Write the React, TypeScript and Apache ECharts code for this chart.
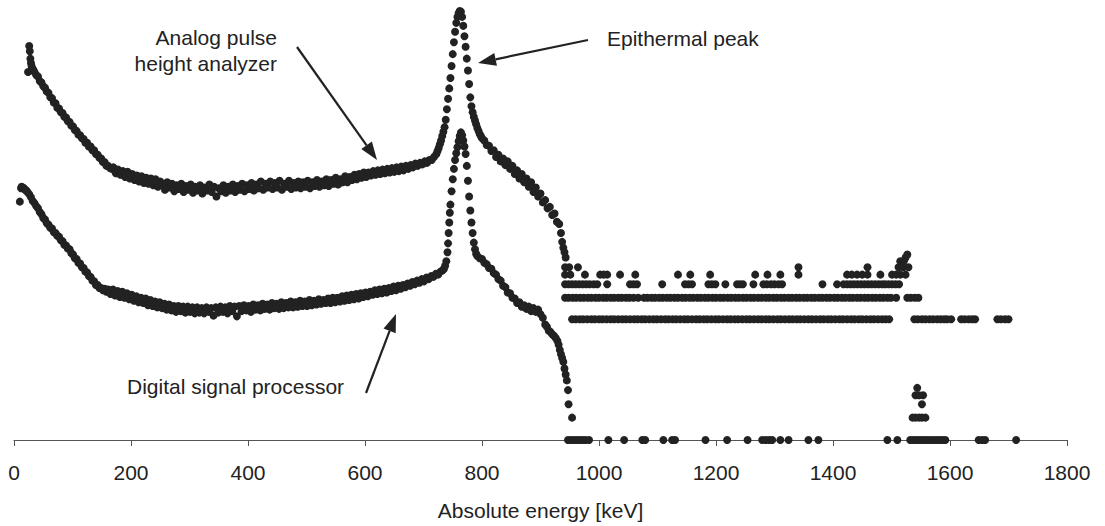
import React, { useEffect, useRef } from "react";
import * as echarts from "echarts";

// Values: x = absolute energy [keV], y = log10 of plotted counts (decades above the axis)
const analogCurve: [number, number][] = [
  [24, 4.94], [26, 5.29], [27, 5.22], [28, 5.12], [29, 5.06], [30, 5.02], [31, 4.99], [33, 4.97], [35, 4.94],
  [38, 4.9], [41, 4.88], [44, 4.82], [47, 4.8], [50, 4.75], [53, 4.73], [56, 4.68], [59, 4.66], [62, 4.6], [65, 4.59],
  [68, 4.53], [71, 4.52], [74, 4.46], [77, 4.45], [80, 4.4], [83, 4.39], [86, 4.34], [89, 4.33], [92, 4.28], [95, 4.27],
  [98, 4.22], [101, 4.21], [104, 4.16], [107, 4.15], [110, 4.1], [113, 4.09], [116, 4.05], [119, 4.04], [122, 3.99],
  [125, 3.99], [128, 3.94], [131, 3.94], [134, 3.89], [137, 3.89], [140, 3.84], [143, 3.83], [146, 3.79], [149, 3.78],
  [152, 3.73], [155, 3.73], [158, 3.68], [161, 3.68], [164, 3.65], [167, 3.64],
  [170, 3.66], [174, 3.58], [178, 3.63], [182, 3.56], [186, 3.61], [190, 3.53], [194, 3.6], [198, 3.51], [202, 3.57],
  [206, 3.49], [210, 3.55], [214, 3.47], [218, 3.54], [222, 3.45], [226, 3.52], [230, 3.44], [234, 3.51], [238, 3.42],
  [242, 3.5], [246, 3.4], [250, 3.47], [254, 3.43], [258, 3.36], [262, 3.46], [266, 3.39], [270, 3.44], [274, 3.34],
  [278, 3.42], [282, 3.37], [286, 3.44], [290, 3.33], [294, 3.41], [298, 3.36], [302, 3.43], [306, 3.32], [310, 3.4],
  [314, 3.35], [318, 3.42], [322, 3.31], [326, 3.39], [330, 3.35], [334, 3.43], [338, 3.33], [342, 3.4], [346, 3.27],
  [350, 3.38], [354, 3.34], [358, 3.42], [362, 3.32], [366, 3.4], [370, 3.35], [374, 3.43], [378, 3.33], [382, 3.41],
  [386, 3.36], [390, 3.44], [394, 3.34], [398, 3.42], [402, 3.37], [406, 3.45], [410, 3.35], [414, 3.43], [418, 3.38],
  [422, 3.47], [426, 3.36], [430, 3.44], [434, 3.39], [438, 3.47], [442, 3.37], [446, 3.45], [450, 3.39], [454, 3.48],
  [458, 3.36], [462, 3.44], [466, 3.4], [470, 3.48], [474, 3.37], [478, 3.45], [482, 3.39], [486, 3.47], [490, 3.38],
  [494, 3.46], [498, 3.4], [502, 3.48], [506, 3.38], [510, 3.46], [514, 3.41], [518, 3.49], [522, 3.4], [526, 3.47],
  [530, 3.42], [534, 3.5], [538, 3.41], [542, 3.49], [546, 3.44], [550, 3.52], [554, 3.43], [558, 3.5], [562, 3.46],
  [566, 3.54], [570, 3.46], [574, 3.53], [578, 3.49], [582, 3.56], [586, 3.5], [590, 3.57], [594, 3.52], [598, 3.59],
  [602, 3.53], [606, 3.59], [610, 3.55], [614, 3.61], [618, 3.56], [622, 3.62], [626, 3.57], [630, 3.63], [634, 3.58],
  [638, 3.64], [642, 3.59], [646, 3.65], [650, 3.6], [654, 3.66], [658, 3.61], [662, 3.67], [666, 3.62], [670, 3.68],
  [674, 3.64], [678, 3.69], [682, 3.66], [686, 3.71], [690, 3.68], [694, 3.72], [698, 3.7], [702, 3.74], [706, 3.72],
  [710, 3.76], [714, 3.76], [718, 3.8], [722, 3.84],
  [724, 3.88], [726, 3.92], [728, 3.97], [730, 4.02], [732, 4.08], [734, 4.14], [736, 4.2], [738, 4.3], [740, 4.44],
  [742, 4.58], [744, 4.72], [746, 4.86], [748, 5.02], [750, 5.18], [752, 5.34], [754, 5.48], [756, 5.6], [758, 5.68],
  [760, 5.73], [762, 5.76], [764, 5.75], [766, 5.68], [768, 5.56], [770, 5.42], [772, 5.28], [774, 5.12], [776, 4.96],
  [778, 4.78], [780, 4.6], [782, 4.48], [784, 4.4], [786, 4.34], [788, 4.29], [790, 4.24], [792, 4.19], [794, 4.15],
  [796, 4.11], [798, 4.08], [800, 4.05],
  [804, 4.02], [808, 3.96], [812, 3.95], [816, 3.88], [820, 3.89], [824, 3.8], [828, 3.83], [832, 3.74], [836, 3.78],
  [840, 3.69], [844, 3.74], [848, 3.64], [852, 3.68], [856, 3.57], [860, 3.62], [864, 3.51], [868, 3.57], [872, 3.46],
  [876, 3.51], [880, 3.4], [884, 3.46], [888, 3.33], [892, 3.39], [896, 3.27], [900, 3.31], [904, 3.19], [908, 3.22],
  [912, 3.11], [916, 3.13], [920, 3.02], [924, 3.04], [928, 2.93], [932, 2.9], [935, 2.78], [937, 2.66], [939, 2.58],
  [941, 2.52], [943, 2.45],
];

const digitalCurve: [number, number][] = [
  [10, 3.2], [12, 3.38], [13, 3.4], [15, 3.39], [17, 3.38], [19, 3.36], [21, 3.35], [23, 3.33], [26, 3.3], [29, 3.26],
  [32, 3.21], [35, 3.18], [38, 3.14], [41, 3.11], [44, 3.06], [47, 3.03], [50, 2.98], [53, 2.96], [56, 2.91], [59, 2.89],
  [62, 2.85], [65, 2.84], [68, 2.79], [71, 2.78], [74, 2.74], [77, 2.73], [80, 2.68], [83, 2.67], [86, 2.62], [89, 2.61],
  [92, 2.57], [95, 2.56], [98, 2.51], [101, 2.49], [104, 2.44], [107, 2.43], [110, 2.38], [113, 2.37], [116, 2.32],
  [119, 2.31], [122, 2.26], [125, 2.25], [128, 2.2], [131, 2.19], [134, 2.14], [137, 2.13], [140, 2.08], [143, 2.08],
  [146, 2.04], [149, 2.04], [152, 2.01], [155, 2.03], [158, 1.99], [161, 2.02],
  [165, 1.96], [169, 2.02], [173, 1.94], [177, 2.0], [181, 1.92], [185, 1.99], [189, 1.91], [193, 1.97], [197, 1.89],
  [201, 1.95], [205, 1.87], [209, 1.93], [213, 1.85], [217, 1.91], [221, 1.84], [225, 1.9], [229, 1.81], [233, 1.88],
  [237, 1.8], [241, 1.86], [245, 1.78], [249, 1.85], [253, 1.77], [257, 1.83], [261, 1.75], [265, 1.82], [269, 1.74],
  [273, 1.8], [277, 1.72], [281, 1.8], [285, 1.73], [289, 1.79], [293, 1.71], [297, 1.79], [301, 1.72], [305, 1.78],
  [309, 1.7], [313, 1.78], [317, 1.71], [321, 1.77], [325, 1.7], [329, 1.78], [333, 1.72], [337, 1.77], [341, 1.67],
  [345, 1.78], [349, 1.71], [353, 1.79], [357, 1.72], [361, 1.78], [365, 1.7], [369, 1.8], [373, 1.73], [377, 1.79],
  [381, 1.66], [385, 1.8], [389, 1.73], [393, 1.81], [397, 1.74], [401, 1.8], [405, 1.72], [409, 1.82], [413, 1.75],
  [417, 1.81], [421, 1.74], [425, 1.83], [429, 1.76], [433, 1.82], [437, 1.75], [441, 1.84], [445, 1.77], [449, 1.83],
  [453, 1.76], [457, 1.85], [461, 1.77], [465, 1.84], [469, 1.78], [473, 1.86], [477, 1.78], [481, 1.85], [485, 1.79],
  [489, 1.87], [493, 1.8], [497, 1.86], [501, 1.8], [505, 1.88], [509, 1.81], [513, 1.87], [517, 1.82], [521, 1.89],
  [525, 1.83], [529, 1.88], [533, 1.84], [537, 1.9], [541, 1.84], [545, 1.91], [549, 1.85], [553, 1.91], [557, 1.86],
  [561, 1.93], [565, 1.87], [569, 1.94], [573, 1.88], [577, 1.95], [581, 1.89], [585, 1.96], [589, 1.9], [593, 1.97],
  [597, 1.92], [601, 1.98], [605, 1.93], [609, 1.99], [613, 1.95], [617, 2.01], [621, 1.96], [625, 2.02], [629, 1.97],
  [633, 2.03], [637, 1.98], [641, 2.04], [645, 2.0], [649, 2.06], [653, 2.01], [657, 2.07], [661, 2.03], [665, 2.08],
  [669, 2.05], [673, 2.1], [677, 2.07], [681, 2.12], [685, 2.09], [689, 2.14], [693, 2.11], [697, 2.16], [701, 2.13],
  [705, 2.18], [709, 2.16], [713, 2.2], [717, 2.19], [721, 2.23], [725, 2.22], [729, 2.26], [733, 2.28],
  [735, 2.3], [737, 2.34], [739, 2.4], [741, 2.52], [742, 2.64], [743, 2.78], [744, 2.92], [745, 3.05], [746, 3.16],
  [748, 3.34], [750, 3.5], [752, 3.64], [754, 3.76], [756, 3.85], [758, 3.93], [760, 4.01], [762, 4.08], [764, 4.13],
  [766, 4.09], [768, 4.02], [770, 3.94], [772, 3.84], [774, 3.68], [776, 3.48], [778, 3.27], [780, 3.08], [782, 2.92],
  [784, 2.78], [786, 2.65], [788, 2.56], [790, 2.5], [792, 2.47],
  [796, 2.44], [800, 2.43], [804, 2.38], [808, 2.36], [812, 2.31], [816, 2.3], [820, 2.24], [824, 2.22], [828, 2.16],
  [832, 2.14], [836, 2.07], [840, 2.05], [844, 1.98], [848, 1.97], [852, 1.91], [856, 1.9], [860, 1.84], [864, 1.85],
  [868, 1.79], [872, 1.81], [876, 1.76], [880, 1.79], [884, 1.73], [888, 1.77], [892, 1.72], [896, 1.75], [900, 1.69],
  [904, 1.64], [908, 1.55], [911, 1.52], [914, 1.47], [917, 1.45], [920, 1.42], [923, 1.4], [926, 1.37], [929, 1.33],
  [931, 1.28], [933, 1.21], [935, 1.15], [937, 1.1], [939, 1.05], [941, 0.96], [943, 0.88], [945, 0.8], [947, 0.67],
  [948, 0.48], [954, 0.3],
];

// Discrete low-count rows: plotted level of 1, 2, 3, 4, 5 counts
const analogLevels = [1.62, 1.91, 2.09, 2.22, 2.32];
const analogRow1 = [954, 960, 967, 973, 980, 987, 993, 1000, 1006, 1013, 1020, 1026, 1033, 1040, 1046, 1053, 1060, 1066, 1073, 1079, 1086, 1093, 1099, 1106, 1113, 1119, 1126, 1132, 1139, 1146, 1152, 1159, 1166, 1172, 1179, 1185, 1192, 1199, 1205, 1212, 1219, 1225, 1232, 1238, 1245, 1252, 1258, 1265, 1272, 1278, 1285, 1291, 1298, 1305, 1311, 1318, 1325, 1331, 1338, 1344, 1351, 1358, 1364, 1371, 1378, 1384, 1391, 1397, 1404, 1411, 1417, 1424, 1431, 1437, 1444, 1450, 1457, 1464, 1470, 1477, 1484, 1490, 1496, 1539, 1545, 1552, 1558, 1565, 1571, 1578, 1584, 1590, 1595, 1602, 1619, 1625, 1632, 1638, 1643, 1681, 1687, 1694, 1700];
const analogRow2 = [942, 948, 955, 961, 968, 974, 981, 987, 994, 1000, 1007, 1013, 1020, 1026, 1033, 1039, 1046, 1052, 1059, 1067, 1077, 1083, 1090, 1096, 1103, 1109, 1116, 1122, 1129, 1135, 1142, 1148, 1155, 1161, 1168, 1174, 1181, 1187, 1194, 1200, 1207, 1213, 1220, 1226, 1233, 1239, 1246, 1252, 1259, 1265, 1272, 1278, 1285, 1291, 1298, 1304, 1311, 1317, 1324, 1330, 1337, 1343, 1350, 1356, 1363, 1369, 1376, 1382, 1389, 1395, 1402, 1408, 1415, 1421, 1428, 1434, 1441, 1447, 1454, 1460, 1467, 1473, 1480, 1486, 1493, 1499, 1508, 1527, 1533, 1540, 1546];
const analogRow3 = [942, 948, 954, 960, 966, 972, 978, 984, 991, 997, 1014, 1053, 1059, 1065, 1108, 1147, 1153, 1159, 1187, 1193, 1199, 1216, 1236, 1241, 1246, 1264, 1281, 1287, 1294, 1300, 1307, 1313, 1382, 1407, 1418, 1424, 1430, 1436, 1442, 1448, 1454, 1460, 1466, 1472, 1478, 1484, 1489, 1495, 1501, 1507, 1513];
const analogRow4 = [942, 951, 976, 1002, 1008, 1014, 1036, 1062, 1135, 1156, 1190, 1267, 1288, 1310, 1341, 1424, 1432, 1441, 1450, 1459, 1481, 1501, 1508, 1515, 1524];
const analogRow5 = [942, 949, 964, 1341, 1459, 1512, 1520, 1529];
const analogTop: [number, number][] = [[1515, 2.4], [1521, 2.4], [1524, 2.45], [1527, 2.49]];

const digitalLevels = [0, 0.3, 0.48, 0.6, 0.7];
const digitalRow1 = [947, 952, 957, 962, 967, 972, 977, 983, 1016, 1043, 1074, 1079, 1110, 1125, 1130, 1182, 1219, 1254, 1279, 1285, 1291, 1296, 1310, 1324, 1358, 1375, 1493, 1510, 1532, 1537, 1542, 1547, 1552, 1557, 1562, 1567, 1572, 1577, 1582, 1587, 1592, 1649, 1655, 1660, 1713];
const digitalRow2 = [1536, 1541, 1547, 1552, 1558];
const digitalRow3 = [1552];
const digitalRow4 = [1541, 1547, 1554];
const digitalRow5 = [1544];

const analogRows = [analogRow1, analogRow2, analogRow3, analogRow4, analogRow5];
const digitalRows = [digitalRow1, digitalRow2, digitalRow3, digitalRow4, digitalRow5];

const FONT = "'Liberation Sans', Arial, sans-serif";
const INK = "#222222";
const TEXT = "#222222";

function rowsToPoints(rows: number[][], levels: number[]): [number, number][] {
  const out: [number, number][] = [];
  rows.forEach((row, i) => row.forEach((x) => out.push([x, levels[i]])));
  return out;
}

function arrow(x1: number, y1: number, x2: number, y2: number, headLen = 18, headHalf = 6.5) {
  const dx = x2 - x1;
  const dy = y2 - y1;
  const len = Math.sqrt(dx * dx + dy * dy);
  const ux = dx / len;
  const uy = dy / len;
  const bx = x2 - ux * headLen;
  const by = y2 - uy * headLen;
  const px = -uy;
  const py = ux;
  return [
    { type: "line", shape: { x1, y1, x2: bx, y2: by }, style: { stroke: INK, lineWidth: 2.2 } },
    {
      type: "polygon",
      shape: {
        points: [
          [x2, y2],
          [bx + px * headHalf, by + py * headHalf],
          [bx - px * headHalf, by - py * headHalf],
        ],
      },
      style: { fill: INK },
    },
  ];
}

export default function App() {
  const ref = useRef<HTMLDivElement>(null);
  useEffect(() => {
    if (!ref.current) return;
    const chart = echarts.init(ref.current, null, { renderer: "svg" });
    const analogData = [...analogCurve, ...rowsToPoints(analogRows, analogLevels), ...analogTop];
    const digitalData = [...digitalCurve, ...rowsToPoints(digitalRows, digitalLevels)];
    const dotStyle = { color: INK, opacity: 1, borderWidth: 0 };
    chart.setOption({
      animation: false,
      backgroundColor: "#ffffff",
      grid: { left: 14, right: 38, top: 2, bottom: 83, containLabel: false },
      xAxis: {
        type: "value",
        min: 0,
        max: 1800,
        interval: 200,
        name: "Absolute energy [keV]",
        nameLocation: "middle",
        nameGap: 60,
        nameTextStyle: { fontFamily: FONT, fontSize: 21, color: TEXT },
        axisLine: { show: true, onZero: false, lineStyle: { color: "#555", width: 1 } },
        axisTick: { show: true, length: 6, inside: false, lineStyle: { color: "#555" } },
        axisLabel: {
          fontFamily: FONT,
          fontSize: 21,
          color: TEXT,
          margin: 22,
          formatter: (v: number) => String(v),
        },
        splitLine: { show: false },
      },
      yAxis: { type: "value", min: 0, max: 5.88, show: false, splitLine: { show: false } },
      series: [
        {
          name: "Analog pulse height analyzer",
          type: "scatter",
          data: analogData,
          symbolSize: 8,
          itemStyle: dotStyle,
        },
        {
          name: "Digital signal processor",
          type: "scatter",
          data: digitalData,
          symbolSize: 8,
          itemStyle: dotStyle,
        },
      ],
      graphic: [
        {
          type: "text",
          x: 277,
          y: 50,
          style: {
            text: "Analog pulse\nheight analyzer",
            fontFamily: FONT,
            fontSize: 21,
            lineHeight: 26,
            fill: TEXT,
            align: "right",
            verticalAlign: "middle",
          },
        },
        {
          type: "text",
          x: 607,
          y: 38,
          style: { text: "Epithermal peak", fontFamily: FONT, fontSize: 21, fill: TEXT, align: "left", verticalAlign: "middle" },
        },
        {
          type: "text",
          x: 127,
          y: 386,
          style: { text: "Digital signal processor", fontFamily: FONT, fontSize: 21, fill: TEXT, align: "left", verticalAlign: "middle" },
        },
        ...arrow(297, 47, 377, 160),
        ...arrow(588, 40, 478, 63),
        ...arrow(366, 393, 396, 314),
      ],
    });
    return () => chart.dispose();
  }, []);
  return (
    <div
      ref={ref}
      style={{ position: "fixed", left: 0, top: 0, width: 1105, height: 526, background: "#fff" }}
    />
  );
}
